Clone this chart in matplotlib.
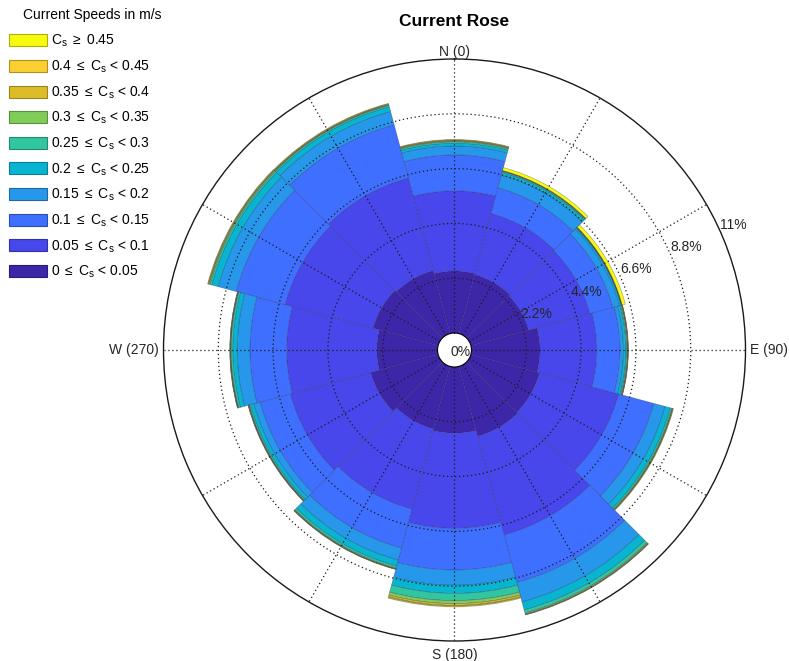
import numpy as np
import matplotlib
matplotlib.use("Agg")
import matplotlib.pyplot as plt
from matplotlib.patches import Patch

plt.rcParams['font.family'] = ['Liberation Sans', 'DejaVu Sans']
plt.rcParams['mathtext.fontset'] = 'custom'
plt.rcParams['mathtext.rm'] = 'Liberation Sans'
plt.rcParams['mathtext.it'] = 'Liberation Sans'
plt.rcParams['mathtext.sf'] = 'Liberation Sans'

# ---- data -------------------------------------------------------------
directions = [0, 30, 60, 90, 120, 150, 180, 210, 240, 270, 300, 330]   # deg, sector centres
sector_width = 30

speed_labels = [
    r'0 $\leq$ C$_\mathregular{s}$ < 0.05',
    r'0.05 $\leq$ C$_\mathregular{s}$ < 0.1',
    r'0.1 $\leq$ C$_\mathregular{s}$ < 0.15',
    r'0.15 $\leq$ C$_\mathregular{s}$ < 0.2',
    r'0.2 $\leq$ C$_\mathregular{s}$ < 0.25',
    r'0.25 $\leq$ C$_\mathregular{s}$ < 0.3',
    r'0.3 $\leq$ C$_\mathregular{s}$ < 0.35',
    r'0.35 $\leq$ C$_\mathregular{s}$ < 0.4',
    r'0.4 $\leq$ C$_\mathregular{s}$ < 0.45',
    r'C$_\mathregular{s}$ $\geq$ 0.45',
]

# frequency (%) of each speed class in each direction sector
freq_000_005 = [2.49, 2.45, 2.40, 2.75, 2.85, 2.90, 2.66, 2.60, 2.80, 2.44, 2.70, 2.62]
freq_005_010 = [3.22, 2.54, 2.55, 2.28, 3.29, 4.10, 3.82, 3.33, 3.34, 3.62, 3.66, 3.85]
freq_010_015 = [1.44, 1.07, 0.95, 0.93, 1.46, 1.98, 1.67, 1.62, 1.26, 1.47, 2.03, 2.21]
freq_015_020 = [0.36, 0.52, 0.28, 0.14, 0.47, 0.81, 0.61, 0.50, 0.26, 0.51, 0.75, 0.55]
freq_020_025 = [0.11, 0.12, 0.06, 0.10, 0.22, 0.33, 0.33, 0.25, 0.14, 0.18, 0.27, 0.20]
freq_025_030 = [0.06, 0.04, 0.02, 0.04, 0.06, 0.13, 0.29, 0.08, 0.05, 0.07, 0.07, 0.06]
freq_030_035 = [0.03, 0.02, 0.01, 0.03, 0.03, 0.04, 0.12, 0.03, 0.02, 0.02, 0.04, 0.02]
freq_035_040 = [0.02, 0.01, 0.01, 0.01, 0.01, 0.02, 0.07, 0.01, 0.01, 0.01, 0.02, 0.02]
freq_040_045 = [0.02, 0.01, 0.01, 0.01, 0.01, 0.01, 0.03, 0.01, 0.01, 0.01, 0.02, 0.02]
freq_045_up  = [0.02, 0.12, 0.13, 0.01, 0.02, 0.01, 0.03, 0.01, 0.01, 0.01, 0.02, 0.02]

freqs = [freq_000_005, freq_005_010, freq_010_015, freq_015_020, freq_020_025,
         freq_025_030, freq_030_035, freq_035_040, freq_040_045, freq_045_up]

ring_values = [2.2, 4.4, 6.6, 8.8, 11]
ring_labels = ['2.2%', '4.4%', '6.6%', '8.8%', '11%']
compass_angles = [0, 90, 180, 270]
compass_labels = ['N (0)', 'E (90)', 'S (180)', 'W (270)']

# parula(10)
colors = ['#3e26a8', '#4747eb', '#3e6fff', '#2797eb', '#08b5d0',
          '#31c69f', '#80cc59', '#dcbd28', '#fccf30', '#f9fb0e']

# ---- figure -----------------------------------------------------------
W, H = 789, 661
fig = plt.figure(figsize=(W / 100, H / 100), dpi=100)
cx, cy, R = 454.5, 350.0, 291.0
ax = fig.add_axes([(cx - R) / W, (H - cy - R) / H, 2 * R / W, 2 * R / H],
                  projection='polar')
ax.set_theta_zero_location('N')
ax.set_theta_direction(-1)
rmax = 11.0
hole_px = 17.0
ax.set_rlim(0, rmax)
ax.set_rorigin(-hole_px / ((R - hole_px) / rmax))

theta = np.deg2rad(directions)
width = np.deg2rad(sector_width)
bottom = np.zeros(len(directions))
for f, c in zip(freqs, colors):
    f = np.asarray(f)
    ax.bar(theta, f, width=width, bottom=bottom, color=c,
           edgecolor=(0.12, 0.12, 0.3, 0.4), linewidth=0.45, zorder=1)
    bottom = bottom + f

ax.set_xticks(np.deg2rad(np.arange(0, 360, 30)))
ax.set_xticklabels([])
ax.set_rgrids(ring_values[:-1], labels=[''] * 4)
ax.grid(True, linestyle=(0, (1, 2.2)), color='#1a1a1a', linewidth=0.9)
ax.set_axisbelow(False)
ax.spines['polar'].set_linewidth(1.0)
ax.spines['polar'].set_color('#1a1a1a')

for v, lab in zip(ring_values, ring_labels):
    ax.text(np.deg2rad(66), v, lab, ha='left', va='bottom', fontsize=10,
            color='#262626')
# centre label
ax.text(0.5 - 3.5 / (2 * R), 0.5 - 2 / (2 * R), '0%', transform=ax.transAxes,
        ha='left', va='center', fontsize=10, color='#262626')

ax.text(np.deg2rad(0), rmax + 0.02, compass_labels[0], ha='center', va='bottom', fontsize=10, color='#262626')
ax.text(np.deg2rad(90), rmax + 0.2, compass_labels[1], ha='left', va='center', fontsize=10, color='#262626')
ax.text(np.deg2rad(180), rmax + 0.28, compass_labels[2], ha='center', va='top', fontsize=10, color='#262626')
ax.text(np.deg2rad(270), rmax + 0.2, compass_labels[3], ha='right', va='center', fontsize=10, color='#262626')

fig.text(cx / W, 1 - 21 / H, 'Current Rose', ha='center', va='center',
         fontsize=12.5, fontweight='bold')

# legend (highest class on top)
def darker(hexc, k=0.7):
    rgb = np.array(matplotlib.colors.to_rgb(hexc))
    return tuple(rgb * k)

handles = [Patch(facecolor=c, edgecolor=darker(c), linewidth=0.8) for c in colors][::-1]
labels = speed_labels[::-1]
leg = fig.legend(handles, labels, loc='upper left', bbox_to_anchor=(0.0, 1.0 - 24 / H),
                 frameon=False, fontsize=10, handlelength=2.7, handleheight=0.95,
                 handletextpad=0.35, labelspacing=0.665, borderaxespad=0.35,
                 borderpad=0.3)
fig.text(23 / W, 1 - 15 / H, 'Current Speeds in m/s', ha='left', va='center',
         fontsize=10)

fig.savefig('out.png', dpi=100)
